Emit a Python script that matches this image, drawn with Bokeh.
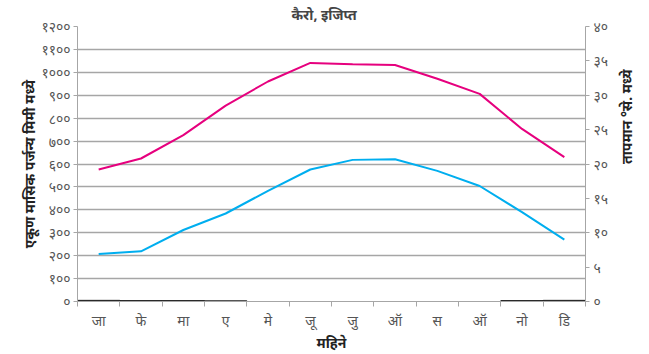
import math
from bokeh.plotting import figure
from bokeh.models import Range1d, LinearAxis, FixedTicker
from bokeh.embed import file_html
from bokeh.resources import INLINE
import numpy as np

# ---- data ----
title = "कैरो, इजिप्त"
months = ["जा", "फे", "मा", "ए", "मे", "जू", "जु", "ऑ", "स", "ऑ", "नो", "डि"]
rain_mm = [5, 4, 4, 3, 0, 0, 0, 0, 0, 0, 4, 5]
temp_max = [19.2, 20.8, 24.2, 28.5, 32.0, 34.7, 34.5, 34.4, 32.4, 30.2, 25.1, 21.0]
temp_min = [6.9, 7.3, 10.4, 12.8, 16.1, 19.2, 20.6, 20.7, 19.0, 16.8, 13.0, 9.0]
rain_ticks = list(range(0, 1300, 100))
temp_ticks = list(range(0, 45, 5))
left_label = "एकूण मासिक पर्जन्य मिमी मध्ये"
right_label = "तापमान °से. मध्ये"
x_label = "महिने"

DEV = str.maketrans("0123456789", "०१२३४५६७८९")
def dev(n):
    return str(n).translate(DEV)

FONT = "Noto Sans"
TICK_COLOR = "#555555"
GRID = "#a6a6a6"

n = len(months)
xc = np.arange(n) + 0.5

p = figure(frame_width=508, frame_height=275, x_range=Range1d(0, n), y_range=Range1d(0, 1200),
           output_backend="svg", toolbar_location=None,
           min_border_left=77, min_border_right=49, min_border_top=22, min_border_bottom=41)
p.outline_line_color = None
p.background_fill_color = "white"
p.border_fill_color = "white"

p.title.text = title
p.title.align = "left"
p.title.offset = 214
p.title.text_font = FONT
p.title.text_font_size = "14px"
p.title.text_font_style = "bold"
p.title.standoff = 5

# rainfall bars
p.vbar(x=xc, top=rain_mm, width=1.0, color="#222222")

# temperatures on right axis
p.extra_y_ranges = {"temp": Range1d(0, 40)}
p.line(xc, temp_max, y_range_name="temp", color="#e6007e", line_width=2)
p.line(xc, temp_min, y_range_name="temp", color="#00aeef", line_width=2)

# x axis
xa = p.xaxis[0]
xa.ticker = FixedTicker(ticks=list(xc), minor_ticks=list(range(0, n + 1)))
xa.major_label_overrides = {float(x): m for x, m in zip(xc, months)}
xa.major_tick_out = 0
xa.major_tick_in = 0
xa.minor_tick_out = 5
xa.minor_tick_in = 0
xa.axis_label = x_label

# left y axis
ya = p.yaxis[0]
ya.ticker = FixedTicker(ticks=rain_ticks)
ya.major_label_overrides = {t: dev(t) for t in rain_ticks}
ya.minor_tick_out = 0
ya.minor_tick_in = 0
ya.major_tick_in = 0
ya.major_tick_out = 4
ya.axis_label = left_label

# right axis
ra = LinearAxis(y_range_name="temp", ticker=FixedTicker(ticks=temp_ticks),
                axis_label=right_label)
ra.major_label_overrides = {t: dev(t) for t in temp_ticks}
ra.minor_tick_out = 0
ra.minor_tick_in = 0
ra.major_tick_in = 0
ra.major_tick_out = 4
ra.axis_label_orientation = math.pi / 2
p.add_layout(ra, "right")

for ax in [xa, ya, ra]:
    ax.axis_line_color = GRID
    ax.major_tick_line_color = GRID
    ax.minor_tick_line_color = GRID
    ax.major_label_text_font = FONT
    ax.major_label_text_color = TICK_COLOR
    ax.axis_label_text_font = FONT
    ax.axis_label_text_font_style = "bold"
    ax.axis_label_text_font_size = "14px"
    ax.axis_label_text_color = "#222222"

xa.major_label_text_font_size = "14px"
ya.major_label_text_font_size = "14px"
ra.major_label_text_font_size = "14px"
xa.major_label_standoff = 4
xa.axis_label_standoff = 0
ya.major_label_standoff = 3
ra.major_label_standoff = 4
ya.axis_label_standoff = -1
ra.axis_label_standoff = 15

p.xgrid.grid_line_color = None
p.ygrid.ticker = FixedTicker(ticks=rain_ticks)
p.ygrid.grid_line_color = GRID
p.ygrid.grid_line_width = 1.5

open("out.html", "w").write(file_html(p, INLINE))
